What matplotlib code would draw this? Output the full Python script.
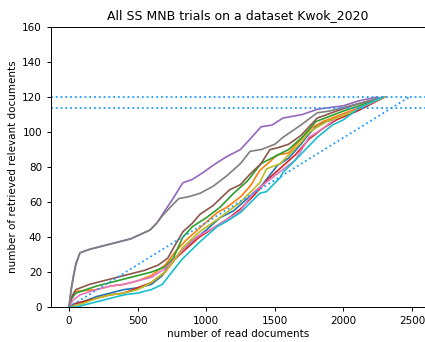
import matplotlib
matplotlib.use("Agg")
import matplotlib.pyplot as plt

TITLE = "All SS MNB trials on a dataset Kwok_2020"
N_DOCS = 2481
N_RELEVANT = 120
RECALL_95 = 114

# (read documents, retrieved relevant) waypoints per trial
trials = {
    "tab:blue": (
        [0, 40, 100, 200, 300, 400, 500, 600, 680, 740, 820, 900, 1000, 1100, 1200, 1300, 1400, 1520, 1600, 1690, 1750, 1810, 1980, 2100, 2200, 2300],
        [0, 2, 3, 6, 8, 10, 11, 13, 18, 25, 32, 38, 44, 51, 55, 62, 69, 81, 85, 93, 99, 104, 109, 112, 116, 120],
    ),
    "tab:orange": (
        [0, 20, 50, 200, 300, 400, 500, 600, 700, 780, 850, 950, 1080, 1150, 1250, 1320, 1390, 1520, 1600, 1760, 1850, 1950, 2050, 2150, 2300],
        [0, 5, 9, 10, 12, 13, 15, 18, 24, 32, 38, 45, 54, 57, 63, 69, 78, 87, 88, 102, 106, 109, 112, 115, 120],
    ),
    "tab:green": (
        [0, 20, 50, 200, 300, 400, 500, 600, 700, 760, 830, 900, 1000, 1100, 1200, 1300, 1400, 1500, 1600, 1700, 1800, 1900, 2000, 2150, 2300],
        [0, 5, 8, 12, 14, 16, 18, 20, 23, 28, 40, 46, 51, 57, 65, 72, 82, 86, 90, 97, 106, 109, 112, 116, 120],
    ),
    "tab:red": (
        [0, 50, 100, 200, 300, 400, 500, 600, 700, 780, 850, 950, 1050, 1150, 1250, 1350, 1450, 1550, 1650, 1750, 1850, 1950, 2100, 2300],
        [0, 2, 3, 5, 7, 8, 11, 14, 20, 28, 33, 40, 45, 50, 56, 64, 73, 80, 87, 96, 102, 107, 112, 120],
    ),
    "tab:purple": (
        [0, 15, 30, 50, 80, 150, 250, 350, 450, 590, 640, 690, 750, 830, 900, 980, 1050, 1150, 1250, 1320, 1400, 1480, 1560, 1700, 1810, 1900, 2000, 2120, 2250],
        [0, 10, 17, 25, 31, 33, 35, 37, 39, 44, 48, 54, 61, 71, 73, 77, 81, 86, 90, 96, 103, 104, 108, 110, 113, 114, 115, 118, 120],
    ),
    "tab:brown": (
        [0, 20, 50, 150, 250, 350, 450, 550, 650, 720, 770, 830, 900, 955, 1050, 1170, 1250, 1320, 1400, 1465, 1520, 1600, 1690, 1810, 1950, 2100, 2300],
        [0, 6, 10, 13, 15, 17, 19, 21, 24, 28, 35, 43, 48, 53, 58, 67, 70, 76, 82, 90, 91, 93, 98, 108, 112, 116, 120],
    ),
    "tab:pink": (
        [0, 30, 80, 200, 300, 400, 500, 600, 700, 800, 880, 950, 1050, 1150, 1250, 1350, 1450, 1550, 1650, 1750, 1850, 1950, 2100, 2300],
        [0, 4, 7, 10, 12, 13, 15, 17, 22, 30, 37, 41, 45, 50, 55, 66, 72, 78, 84, 97, 102, 108, 113, 120],
    ),
    "tab:gray": (
        [0, 15, 30, 50, 80, 150, 250, 350, 450, 590, 640, 690, 750, 800, 870, 955, 1050, 1150, 1250, 1320, 1400, 1500, 1560, 1690, 1810, 1900, 2000, 2150, 2300],
        [0, 9, 16, 24, 31, 33, 35, 37, 39, 44, 48, 53, 58, 62, 63, 65, 69, 75, 82, 89, 90, 93, 97, 104, 111, 112, 114, 117, 120],
    ),
    "tab:olive": (
        [0, 50, 100, 200, 300, 400, 500, 600, 700, 760, 830, 950, 1080, 1150, 1250, 1390, 1440, 1540, 1690, 1750, 1880, 1950, 2050, 2150, 2300],
        [0, 1, 2, 5, 7, 8, 10, 14, 20, 26, 34, 43, 50, 54, 60, 71, 79, 82, 94, 100, 106, 108, 111, 115, 120],
    ),
    "tab:cyan": (
        [0, 50, 100, 200, 300, 400, 500, 600, 680, 740, 820, 950, 1080, 1150, 1250, 1390, 1440, 1540, 1560, 1650, 1810, 1920, 2000, 2120, 2290],
        [0, 0, 1, 3, 5, 7, 8, 10, 13, 19, 27, 37, 46, 49, 54, 65, 66, 74, 77, 84, 97, 104, 107, 114, 120],
    ),
}

plt.rcParams["font.size"] = 7

fig = plt.figure(figsize=(4.25, 3.42), dpi=100)
ax = fig.add_axes([0.12, 0.102, 0.88, 0.819])

for color, (xs, ys) in trials.items():
    ax.plot(xs, ys, color=color, linewidth=1.2)

ax.plot([0, N_DOCS], [0, N_RELEVANT], color="#1e9bff", linestyle=":", linewidth=1.3)
ax.axhline(N_RELEVANT, color="#1e9bff", linestyle=":", linewidth=1.3)
ax.axhline(RECALL_95, color="#1e9bff", linestyle=":", linewidth=1.3)

ax.set_xlim(-131, 2595)
ax.set_ylim(0, 160)
ax.set_xticks([0, 500, 1000, 1500, 2000, 2500])
ax.tick_params(labelsize=7.5, width=0.7, length=3)
for spine in ax.spines.values():
    spine.set_linewidth(0.7)
ax.set_title(TITLE, fontsize=9)
ax.set_xlabel("number of read documents", fontsize=7.5, labelpad=2)
ax.set_ylabel("number of retrieved relevant documents", fontsize=7.5, labelpad=3)

fig.savefig("out.png", dpi=100)
